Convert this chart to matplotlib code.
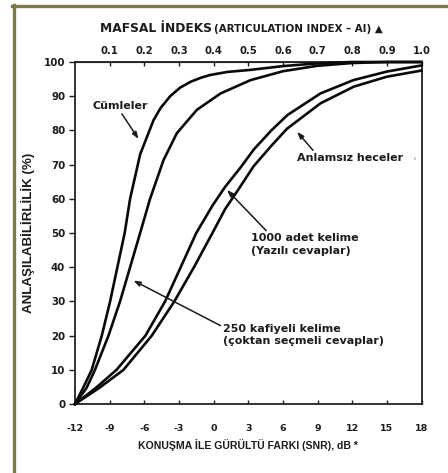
import matplotlib
matplotlib.use("Agg")
import matplotlib.pyplot as plt
from matplotlib.lines import Line2D

plt.rcParams['font.family'] = ['DejaVu Sans']

# ---- data ----
sentences_snr = [-12, -11.3, -10.55, -9.68, -8.96, -8.33, -7.7, -7.23, -6.36, -5.2, -4.6, -3.76, -2.9, -2.0, -1.1, -0.3, 1.2, 3.2, 6.0, 9.0, 12.0, 18.0]
sentences_pct = [0, 4.7, 10, 20, 30, 40, 50, 60, 73, 83, 86.5, 90, 92.5, 94.2, 95.4, 96.2, 97.1, 97.7, 98.8, 99.6, 100, 100]

rhyme_snr = [-12, -11.0, -10.27, -9.1, -8.1, -7.23, -6.36, -5.5, -4.34, -3.18, -1.45, 0.6, 3.2, 6.0, 9.0, 12.0, 15.0, 18.0]
rhyme_pct = [0, 4.7, 10, 20, 30, 40, 50, 60, 71.3, 79.2, 86, 90.8, 94.7, 97.3, 98.9, 99.7, 100, 100]

words1000_snr = [-12, -10.2, -8.4, -5.9, -4.2, -2.85, -1.5, -0.1, 1.0, 2.3, 3.5, 5.0, 6.4, 9.25, 12.1, 15.0, 18.0]
words1000_pct = [0, 4.7, 10, 20, 30, 40, 50, 58, 63.5, 69, 74.5, 80, 84.5, 90.8, 94.7, 97.2, 99.0]

syllables_snr = [-12, -9.9, -7.8, -5.35, -3.4, -1.7, -0.1, 1.0, 2.2, 3.46, 5.0, 6.36, 9.25, 12.14, 15.0, 18.0]
syllables_pct = [0, 4.7, 10, 20, 30, 40, 50, 57, 63, 69.5, 75.5, 80.5, 87.9, 92.8, 95.7, 97.5]

x_ticks = [-12, -9, -6, -3, 0, 3, 6, 9, 12, 15, 18]
y_ticks = [0, 10, 20, 30, 40, 50, 60, 70, 80, 90, 100]
ai_ticks = [0.1, 0.2, 0.3, 0.4, 0.5, 0.6, 0.7, 0.8, 0.9, 1.0]
ai_labels = ["0.1", "0.2", "0.3", "0.4", "0.5", "0.6", "0.7", "0.8", "0.9", "1.0"]

TXT = '#1c1c1c'
W, H = 448, 473
LIB = ['Liberation Sans', 'DejaVu Sans']

fig = plt.figure(figsize=(W / 100, H / 100), dpi=100, facecolor='white')
ax = fig.add_axes([75 / W, 1 - 404 / H, (421.5 - 75) / W, (404 - 62) / H])

for xs, ys in [(sentences_snr, sentences_pct), (rhyme_snr, rhyme_pct),
               (words1000_snr, words1000_pct), (syllables_snr, syllables_pct)]:
    ax.plot(xs, ys, color='#0a0a0a', lw=1.9, solid_joinstyle='round', clip_on=False, zorder=3)

ax.set_xlim(-12, 18)
ax.set_ylim(0, 100)
ax.set_xticks(x_ticks)
ax.set_xticklabels([str(v) for v in x_ticks])
ax.set_yticks(y_ticks)
ax.tick_params(axis='x', direction='in', length=3, width=1, pad=14.5, labelsize=6.8, colors=TXT)
ax.tick_params(axis='y', direction='out', length=4, width=1, pad=3, labelsize=7.4, colors=TXT)
for lab in ax.get_xticklabels() + ax.get_yticklabels():
    lab.set_fontweight('bold')
for s in ax.spines.values():
    s.set_linewidth(1.3)
    s.set_color('#222222')

sec = ax.secondary_xaxis('top', functions=(lambda s: (s + 12) / 30.0, lambda a: a * 30.0 - 12))
sec.set_xticks(ai_ticks)
sec.set_xticklabels(ai_labels)
sec.tick_params(axis='x', direction='in', length=3, width=1, pad=4, labelsize=7.2, colors=TXT)
for lab in sec.get_xticklabels():
    lab.set_fontweight('bold')

ax.set_xlabel("KONUŞMA İLE GÜRÜLTÜ FARKI (SNR), dB *", fontsize=7.6, fontweight='bold', color=TXT,
              labelpad=4.5, family=LIB)
ax.set_ylabel("ANLAŞILABİLİRLİLİK (%)", fontsize=9.6, fontweight='bold', color=TXT, labelpad=6, family=LIB)

# top title
fig.text(100 / W, 1 - 29 / H, "MAFSAL İNDEKS", fontsize=8.8, fontweight='bold', color=TXT, ha='left', va='center')
fig.text(214 / W, 1 - 29.5 / H, "(ARTICULATION INDEX – AI) ▲", fontsize=7.4, fontweight='bold', color=TXT,
         ha='left', va='center')

arrow = dict(arrowstyle='-|>,head_length=0.5,head_width=0.18', color='#1a1a1a', lw=1.1, shrinkA=0, shrinkB=0)
fs = 8.0

ax.annotate("Cümleler", xy=(-6.5, 77.5), xytext=(-8.1, 87.1), fontsize=fs, fontweight='bold', color=TXT,
            ha='center', va='center', arrowprops=dict(arrow, relpos=(0.5, 0.0)))
ax.annotate("Anlamsız heceler", xy=(7.23, 79.6), xytext=(7.25, 71.9), fontsize=fs, fontweight='bold', color=TXT,
            ha='left', va='center', arrowprops=dict(arrow, relpos=(0.17, 1.0)))
ax.text(17.3, 71.9, "ı", fontsize=4.5, color='#555555', ha='left', va='center')
ax.annotate("1000 adet kelime\n(Yazılı cevaplar)", xy=(1.16, 62.6), xytext=(3.2, 46.6), fontsize=fs,
            fontweight='bold', color=TXT, ha='left', va='center', linespacing=1.3,
            arrowprops=dict(arrow, relpos=(0.17, 1.0)))
ax.annotate("250 kafiyeli kelime\n(çoktan seçmeli cevaplar)", xy=(-6.94, 36.1), xytext=(0.84, 20.2), fontsize=fs,
            fontweight='bold', color=TXT, ha='left', va='center', linespacing=1.3,
            arrowprops=dict(arrow, relpos=(0.0, 0.85)))

# olive frame (top and left edges)
olive = '#7a7a44'
fig.add_artist(Line2D([12 / W, 1.0], [1 - 6.5 / H, 1 - 6.5 / H], transform=fig.transFigure, color=olive, lw=2.4))
fig.add_artist(Line2D([13.5 / W, 13.5 / W], [0.0, 1 - 5.5 / H], transform=fig.transFigure, color=olive, lw=2.4))

fig.savefig("out.png", dpi=100, facecolor='white')
